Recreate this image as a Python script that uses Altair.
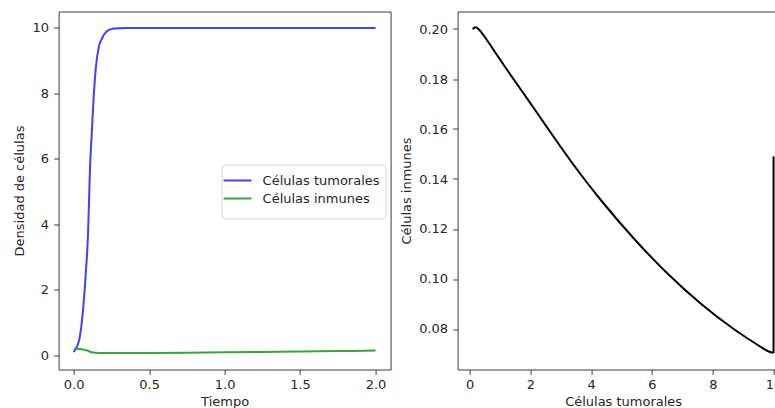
import altair as alt
import pandas as pd

FONT = "DejaVu Sans"
TXT = "#262626"
FRAME = "#3c3c3c"

# ---- left panel: time series ----
series_names = ["Células tumorales", "Células inmunes"]
series_colors = ["#4040ff", "#40a040"]

tumor_time = [0.0, 0.02, 0.04, 0.06, 0.08, 0.095, 0.108, 0.12, 0.13, 0.146,
              0.168, 0.19, 0.205, 0.23, 0.267, 0.35, 0.5, 1.0, 1.5, 2.0]
tumor_vals = [0.10, 0.25, 0.55, 1.3, 2.5, 3.7, 5.7, 6.8, 7.7, 8.75,
              9.45, 9.7, 9.82, 9.93, 9.98, 10.0, 10.0, 10.0, 10.0, 10.0]

immune_time = [0.0, 0.02, 0.04, 0.06, 0.08, 0.095, 0.108, 0.12, 0.13, 0.146,
               0.168, 0.2, 0.25, 0.5, 0.75, 1.0, 1.25, 1.5, 1.75, 2.0]
immune_vals = [0.200, 0.2006, 0.1962, 0.1825, 0.1614, 0.141, 0.1125, 0.0985, 0.0889, 0.0793,
               0.0740, 0.0708, 0.0704, 0.077, 0.085, 0.094, 0.104, 0.116, 0.131, 0.148]

time_ticks = [0.0, 0.5, 1.0, 1.5, 2.0]
density_ticks = [0, 2, 4, 6, 8, 10]

# ---- right panel: phase plot ----
tumor_phase = [0.1, 0.2, 0.35, 0.53, 0.8, 1.18, 1.73, 2.28, 2.82, 3.37, 3.86, 4.31,
               5.41, 6.51, 7.61, 8.70, 9.47, 9.86, 10.0]
immune_phase = [0.2000, 0.2007, 0.1992, 0.1963, 0.1914, 0.1846, 0.1750, 0.1654, 0.1559, 0.1465,
                0.1386, 0.1317, 0.1161, 0.1022, 0.0901, 0.0799, 0.0737, 0.0709, 0.0704]
final_tumor = [10.0]
final_immune_start = [0.0704]
final_immune_end = [0.149]

phase_x_ticks = [0, 2, 4, 6, 8, 10]
phase_y_ticks = [0.08, 0.10, 0.12, 0.14, 0.16, 0.18, 0.20]

df_time = pd.concat([
    pd.DataFrame({"t": tumor_time, "value": tumor_vals, "series": series_names[0]}),
    pd.DataFrame({"t": immune_time, "value": immune_vals, "series": series_names[1]}),
], ignore_index=True)

df_phase = pd.DataFrame({"tumor": tumor_phase, "immune": immune_phase})
df_vert = pd.DataFrame({"tumor": final_tumor, "y0": final_immune_start, "y1": final_immune_end})

left = alt.Chart(df_time).mark_line(strokeWidth=2, interpolate="monotone").encode(
    x=alt.X("t:Q",
            scale=alt.Scale(domain=[-0.1, 2.1], nice=False, zero=False),
            axis=alt.Axis(values=time_ticks, format=".1f", title="Tiempo",
                          titleY=36, titleBaseline="alphabetic")),
    y=alt.Y("value:Q",
            scale=alt.Scale(domain=[-0.43, 10.5], nice=False, zero=False),
            axis=alt.Axis(values=density_ticks, title="Densidad de células",
                          titleX=-35, titleBaseline="alphabetic")),
    color=alt.Color("series:N",
                    scale=alt.Scale(domain=series_names, range=series_colors),
                    sort=series_names,
                    legend=alt.Legend(orient="none", legendX=163, legendY=153,
                                      title=" ", titleOrient="bottom", titleFontSize=7,
                                      titlePadding=1,
                                      symbolType="M-1.4,0H1.4", symbolStrokeWidth=2, symbolSize=400,
                                      labelFontSize=13, labelFont=FONT, labelColor=TXT,
                                      labelOffset=14, padding=5, rowPadding=0,
                                      strokeColor="#d4d4d4",
                                      fillColor="#ffffff", cornerRadius=3)),
).properties(width=332, height=358)

x_phase_scale = alt.Scale(domain=[-0.395, 10.495], nice=False, zero=False)
y_phase_scale = alt.Scale(domain=[0.0638, 0.207], nice=False, zero=False)
y_phase_axis = alt.Axis(values=phase_y_ticks, format=".2f", title="Células inmunes",
                        titleX=-47, titleBaseline="alphabetic")

phase_line = alt.Chart(df_phase).mark_line(color="black", strokeWidth=2, interpolate="monotone").encode(
    x=alt.X("tumor:Q", scale=x_phase_scale,
            axis=alt.Axis(values=phase_x_ticks, title="Células tumorales",
                          titleY=36, titleBaseline="alphabetic")),
    y=alt.Y("immune:Q", scale=y_phase_scale, axis=y_phase_axis),
)
phase_vert = alt.Chart(df_vert).mark_rule(color="black", strokeWidth=2).encode(
    x=alt.X("tumor:Q", scale=x_phase_scale),
    y=alt.Y("y0:Q", scale=y_phase_scale, axis=y_phase_axis),
    y2="y1:Q")

right = alt.layer(phase_line, phase_vert).properties(width=331, height=358)

# the reference picture is cut at its right edge: a negative right padding
# crops the right panel's frame the same way
chart = alt.hconcat(left, right, spacing=67, bounds="flush").properties(
    padding={"left": 12.6, "top": 10.5, "right": -15, "bottom": 0},
    background="white",
).configure_view(stroke=FRAME, strokeWidth=1).configure_axis(
    grid=False, domain=False, tickColor=FRAME, tickSize=5, tickWidth=1,
    labelFont=FONT, labelFontSize=13, labelColor=TXT, labelPadding=4,
    titleFont=FONT, titleFontSize=13, titleFontWeight="normal", titleColor=TXT,
    labelFlush=False, labelOverlap=False,
).configure_axisY(labelPadding=5)

chart.save("out.html", embed_options={"renderer": "svg", "actions": False})
